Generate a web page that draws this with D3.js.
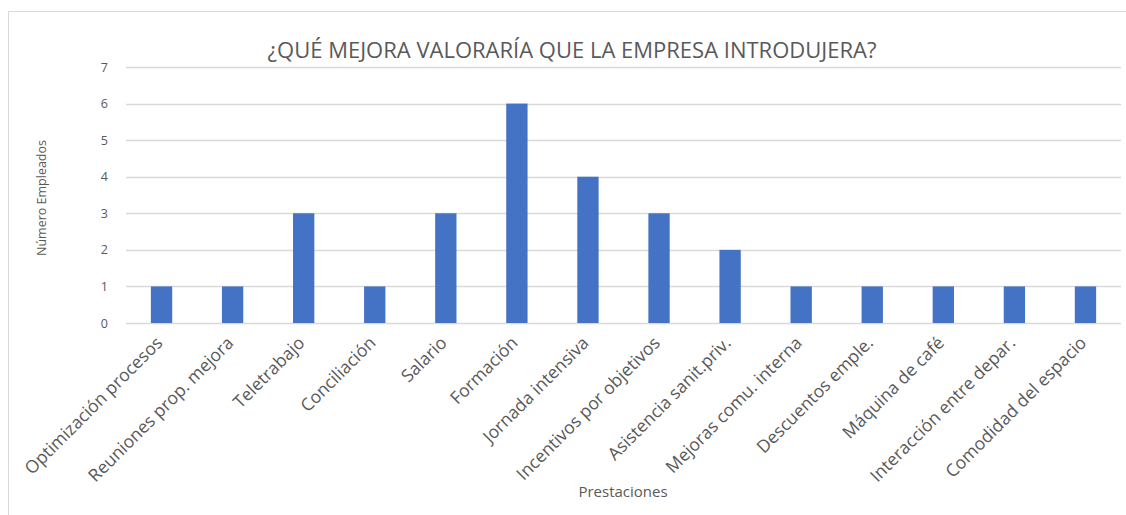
<!DOCTYPE html>
<html>
<head>
<meta charset="utf-8">
<script src="https://cdn.jsdelivr.net/npm/d3@7"></script>
<style>
  body { margin: 0; background: #fff; }
  svg text { font-family: "Open Sans", "Noto Sans", sans-serif; fill: #595959; }
</style>
</head>
<body>
<svg id="chart" width="1126" height="515"></svg>
<script>
const categories = ["Optimización procesos", "Reuniones prop. mejora", "Teletrabajo", "Conciliación",
  "Salario", "Formación", "Jornada intensiva", "Incentivos por objetivos", "Asistencia sanit.priv.",
  "Mejoras comu. interna", "Descuentos emple.", "Máquina de café", "Interacción entre depar.",
  "Comodidad del espacio"];
const values = [1, 1, 3, 1, 3, 6, 4, 3, 2, 1, 1, 1, 1, 1];
const yTicks = [0, 1, 2, 3, 4, 5, 6, 7];

const chartTitle = "¿QUÉ MEJORA VALORARÍA QUE LA EMPRESA INTRODUJERA?";
const xTitle = "Prestaciones";
const yTitle = "Número Empleados";

let svg = d3.select("#chart");
let margin = { left: 126, right: 5, top: 67, bottom: 192 };
let width = 1126, height = 515;

// chart frame (left + top edges visible)
svg.append("rect")
  .attr("x", 8.5).attr("y", 11.5)
  .attr("width", 1130).attr("height", 510)
  .attr("fill", "none").attr("stroke", "#d9d9d9");

let x = d3.scaleBand()
  .domain(categories)
  .range([margin.left, width - margin.right])
  .paddingInner(0.7).paddingOuter(0.35);

let y = d3.scaleLinear()
  .domain([0, 7])
  .range([height - margin.bottom, margin.top]);

// gridlines
svg.append("g")
  .selectAll("line")
  .data(yTicks)
  .enter()
  .append("line")
  .attr("x1", margin.left).attr("x2", width - margin.right)
  .attr("y1", d => Math.round(y(d)) + 0.5).attr("y2", d => Math.round(y(d)) + 0.5)
  .style("stroke", "#d9d9d9")
  .style("stroke-width", 1.5);

// y tick labels
let yAxis = svg.append("g")
  .attr("transform", `translate(${margin.left - 8},0)`)
  .call(d3.axisLeft(y).tickValues(yTicks).tickFormat(d3.format("d")).tickSize(0).tickPadding(10));
yAxis.select(".domain").remove();
yAxis.selectAll("text")
  .style("font-size", "12.5px")
  .style("fill", "#595959")
  .style("font-family", "\"Open Sans\", sans-serif");

// bars
svg.append("g")
  .selectAll("rect")
  .data(values)
  .enter()
  .append("rect")
  .attr("x", (d, i) => x(categories[i]))
  .attr("y", d => y(d))
  .attr("width", x.bandwidth())
  .attr("height", d => y(0) - y(d))
  .style("fill", "#4472C4");

// x labels, rotated
let xAxis = svg.append("g")
  .attr("transform", `translate(0,${y(0)})`)
  .call(d3.axisBottom(x).tickSize(0).tickPadding(0));
xAxis.select(".domain").remove();
xAxis.selectAll("text")
  .style("font-size", "17.5px")
  .style("fill", "#595959")
  .style("font-family", "\"Open Sans\", sans-serif")
  .attr("text-anchor", "end")
  .attr("dy", null)
  .attr("transform", "translate(2,21) rotate(-45)");

// title
svg.append("text")
  .attr("x", 572).attr("y", 58)
  .attr("text-anchor", "middle")
  .style("font-size", "22px")
  .text(chartTitle);

// axis titles
svg.append("text")
  .attr("x", 623).attr("y", 497)
  .attr("text-anchor", "middle")
  .style("font-size", "15px")
  .text(xTitle);

svg.append("text")
  .attr("transform", "translate(46,198) rotate(-90)")
  .attr("text-anchor", "middle")
  .style("font-size", "12.5px")
  .text(yTitle);
</script>
</body>
</html>
